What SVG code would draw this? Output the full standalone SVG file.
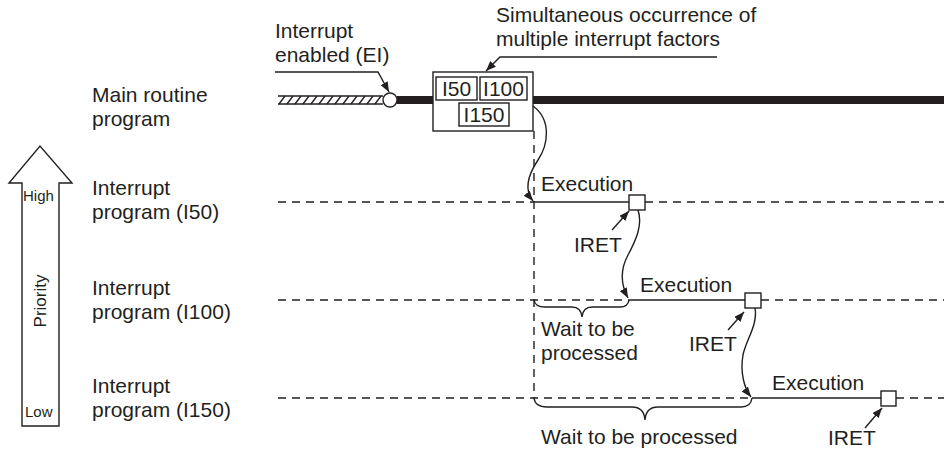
<svg xmlns="http://www.w3.org/2000/svg" width="944" height="450" viewBox="0 0 944 450">
<defs>
<style>
text{font-family:"Liberation Sans",Arial,sans-serif;font-size:21px;fill:#231f20}
.sm{font-size:15px}
.pr{font-size:17px}
.ln{stroke:#231f20;stroke-width:1.4;fill:none}
.ds{stroke:#231f20;stroke-width:1.4;fill:none;stroke-dasharray:8 6}
.bx{stroke:#231f20;stroke-width:1.4;fill:#fff}
.ar{stroke:#231f20;stroke-width:1.4;fill:none;marker-end:url(#ah)}
</style>
<marker id="ah" viewBox="0 0 10 8" refX="10" refY="4" markerWidth="10" markerHeight="8" markerUnits="userSpaceOnUse" orient="auto">
<path d="M0,0 L10,4 L0,8 Z" fill="#231f20"/>
</marker>
</defs>
<rect width="944" height="450" fill="#fff"/>

<g id="priority">
<path class="ln" d="M22,426 V183 H9 L40,146 L72,183 H59 V426 Z" fill="#fff"/>
<text class="sm" x="23" y="201">High</text>
<text class="sm" x="25" y="417">Low</text>
<text class="pr" transform="translate(46,301) rotate(-90)" text-anchor="middle">Priority</text>
</g>

<g id="labels">
<text x="92" y="102">Main routine</text>
<text x="92" y="126">program</text>
<text x="92" y="195">Interrupt</text>
<text x="92" y="219">program (I50)</text>
<text x="92" y="295">Interrupt</text>
<text x="92" y="319">program (I100)</text>
<text x="92" y="393">Interrupt</text>
<text x="92" y="417">program (I150)</text>
</g>

<g id="main-routine">
<line x1="397" y1="100" x2="944" y2="100" stroke="#231f20" stroke-width="8"/>
<line class="ln" x1="278" y1="96" x2="383" y2="96"/>
<line class="ln" x1="278" y1="104" x2="383" y2="104"/>
<path class="ln" d="M279,104 l6,-8 M287,104 l6,-8 M295,104 l6,-8 M303,104 l6,-8 M311,104 l6,-8 M319,104 l6,-8 M327,104 l6,-8 M335,104 l6,-8 M343,104 l6,-8 M351,104 l6,-8 M359,104 l6,-8 M367,104 l6,-8 M375,104 l6,-8"/>
<circle class="bx" cx="390" cy="100" r="7"/>
</g>

<g id="factors-box">
<rect class="bx" x="433" y="72" width="100" height="59"/>
<rect class="bx" x="436" y="77" width="41" height="23"/>
<rect class="bx" x="480" y="77" width="47" height="23"/>
<rect class="bx" x="459" y="103" width="50" height="23"/>
<text x="456.5" y="96" text-anchor="middle">I50</text>
<text x="503.5" y="96" text-anchor="middle">I100</text>
<text x="484" y="122" text-anchor="middle">I150</text>
</g>

<g id="ei-label">
<text x="275" y="38">Interrupt</text>
<text x="275" y="62">enabled (EI)</text>
</g>
<g id="sim-label">
<text x="496" y="22">Simultaneous occurrence of</text>
<text x="496" y="46">multiple interrupt factors</text>
</g>

<g id="I50-level">
<line class="ds" x1="278" y1="202" x2="534" y2="202"/>
<line class="ln" x1="534" y1="202" x2="629" y2="202"/>
<line class="ds" x1="645" y1="202" x2="944" y2="202"/>
<rect class="bx" x="629" y="195" width="16" height="15"/>
<text x="541" y="191">Execution</text>
<text x="574" y="252">IRET</text>
</g>

<g id="I100-level">
<line class="ds" x1="278" y1="300" x2="628" y2="300"/>
<line class="ln" x1="628" y1="300" x2="745" y2="300"/>
<line class="ds" x1="761" y1="300" x2="944" y2="300"/>
<rect class="bx" x="745" y="293" width="16" height="15"/>
<text x="640" y="292">Execution</text>
<text x="689" y="351">IRET</text>
<text x="541" y="336">Wait to be</text>
<text x="541" y="360">processed</text>
</g>

<g id="I150-level">
<line class="ds" x1="278" y1="398" x2="752" y2="398"/>
<line class="ln" x1="752" y1="398" x2="881" y2="398"/>
<line class="ds" x1="896" y1="398" x2="944" y2="398"/>
<rect class="bx" x="881" y="391" width="15" height="15"/>
<text x="772" y="390">Execution</text>
<text x="828" y="445">IRET</text>
<text x="541" y="444">Wait to be processed</text>
</g>

<g id="connectors">
<line class="ds" x1="534" y1="131" x2="534" y2="398"/>
<path class="ar" d="M275,72 H378 L389,92"/>
<path class="ar" d="M717,57 H500 L486,71"/>
<path class="ar" d="M533,106 C552,120 548,145 538,160 C528,175 524,190 533,201"/>
<path class="ar" d="M638,210 C643,225 636,240 628,255 C620,270 621,285 628,298"/>
<path class="ar" d="M755,308 C758,325 746,340 743,355 C740,372 744,388 751,397"/>
<path class="ar" d="M612,230 L629,211"/>
<path class="ar" d="M728,330 L744,312"/>
<path class="ar" d="M865,428 L882,408"/>
<path class="ln" d="M534,300 Q535,307 545,307 H572 Q581,307 582,317 Q583,307 592,307 H620 Q628,307 629,300"/>
<path class="ln" d="M534,398 Q535,407 547,407 H632 Q644,407 645,420 Q646,407 658,407 H741 Q751,407 752,398"/>
</g>
</svg>
